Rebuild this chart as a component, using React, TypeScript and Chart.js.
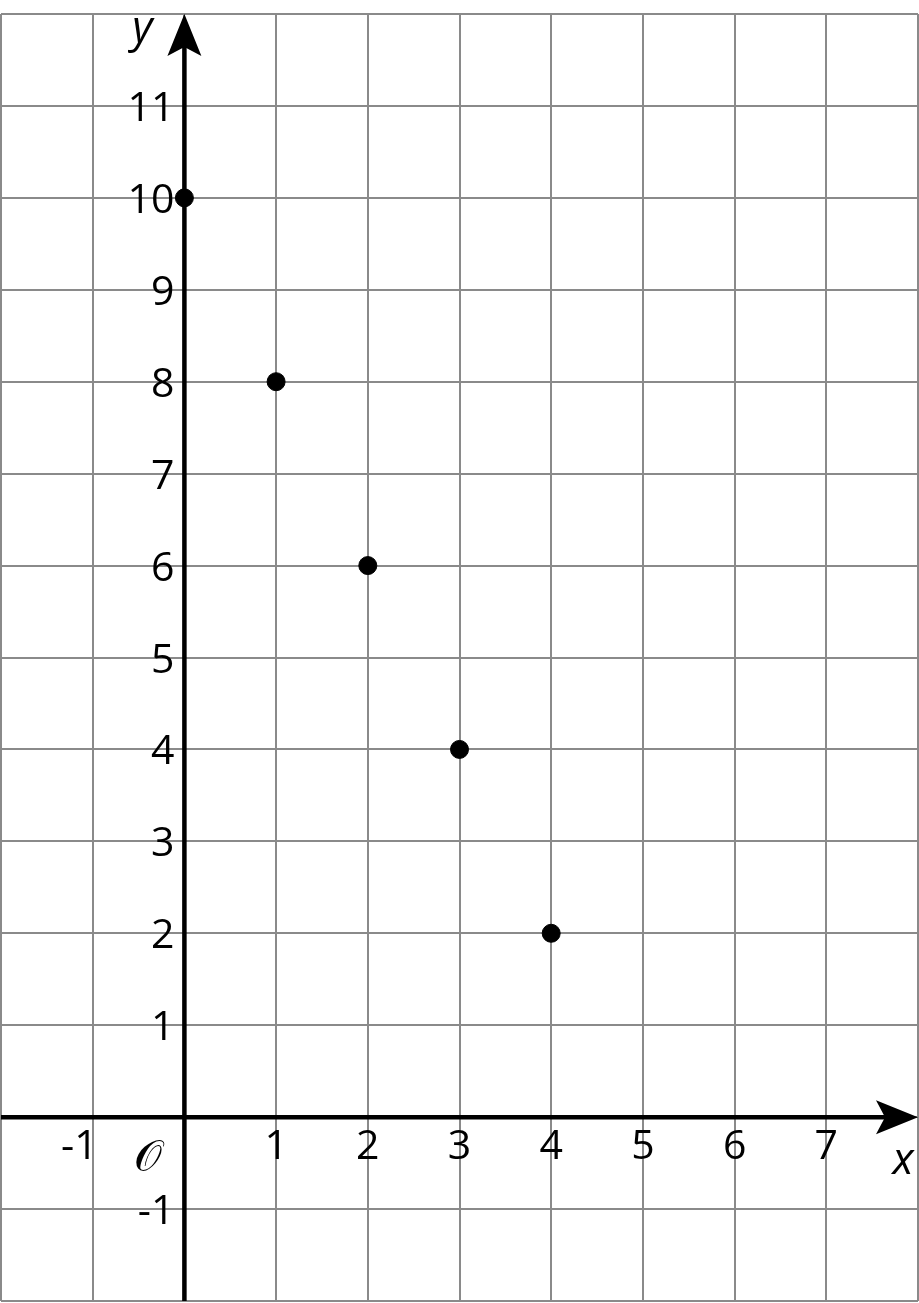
import React, { useEffect, useRef } from "react";
import { Chart, registerables } from "chart.js";

Chart.register(...registerables);

const xPoints = [0, 1, 2, 3, 4];
const yPoints = [10, 8, 6, 4, 2];
const xTickLabels = [-1, 1, 2, 3, 4, 5, 6, 7];
const yTickLabels = [-1, 1, 2, 3, 4, 5, 6, 7, 8, 9, 10, 11];
const xRange = [-2, 8];
const yRange = [-2, 12];
const originLabel = "𝒪";
const xAxisName = "x";
const yAxisName = "y";

const axesPlugin = {
  id: "mathAxes",
  beforeDatasetsDraw(chart: any) {
    const ctx = chart.ctx;
    const xs = chart.scales.x;
    const ys = chart.scales.y;
    const x0 = xs.getPixelForValue(0);
    const y0 = ys.getPixelForValue(0);
    const left = xs.getPixelForValue(xRange[0]);
    const right = xs.getPixelForValue(xRange[1]);
    const top = ys.getPixelForValue(yRange[1]);
    const bottom = ys.getPixelForValue(yRange[0]);
    ctx.save();
    ctx.strokeStyle = "#000";
    ctx.fillStyle = "#000";
    ctx.lineWidth = 4.5;
    ctx.beginPath();
    ctx.moveTo(left, y0);
    ctx.lineTo(right - 30, y0);
    ctx.moveTo(x0, bottom);
    ctx.lineTo(x0, top + 30);
    ctx.stroke();
    // arrows
    ctx.beginPath();
    ctx.moveTo(right, y0);
    ctx.lineTo(right - 42, y0 - 17);
    ctx.lineTo(right - 33, y0);
    ctx.lineTo(right - 42, y0 + 17);
    ctx.closePath();
    ctx.fill();
    ctx.beginPath();
    ctx.moveTo(x0, top);
    ctx.lineTo(x0 - 17, top + 42);
    ctx.lineTo(x0, top + 33);
    ctx.lineTo(x0 + 17, top + 42);
    ctx.closePath();
    ctx.fill();
    // tick labels
    ctx.font = "41px 'Open Sans'";
    ctx.textBaseline = "alphabetic";
    xTickLabels.forEach((v) => {
      const px = xs.getPixelForValue(v);
      if (v < 0) {
        ctx.textAlign = "right";
        ctx.fillText(String(v), px + 5, y0 + 42);
      } else {
        ctx.textAlign = "center";
        ctx.fillText(String(v), px, y0 + 42);
      }
    });
    ctx.textAlign = "right";
    yTickLabels.forEach((v) => {
      const py = ys.getPixelForValue(v);
      ctx.fillText(String(v), x0 - 10, py + 15);
    });
    // origin
    ctx.textAlign = "center";
    ctx.font = "44px 'DejaVu Sans'";
    ctx.fillText(originLabel, x0 - 36, y0 + 54);
    // axis names
    ctx.font = "italic 44px 'Open Sans'";
    ctx.fillText(xAxisName, right - 15, y0 + 57);
    ctx.fillText(yAxisName, x0 - 42, top + 28);
    ctx.restore();
  },
};

export default function App() {
  const ref = useRef<HTMLCanvasElement>(null);
  useEffect(() => {
    document.body.style.margin = "0";
    const chart = new Chart(ref.current!, {
      type: "scatter",
      data: {
        datasets: [
          {
            data: xPoints.map((x, i) => ({ x, y: yPoints[i] })),
            backgroundColor: "#000",
            borderColor: "#000",
            pointRadius: 9,
            pointHoverRadius: 9,
          },
        ],
      },
      options: {
        animation: false,
        responsive: false,
        maintainAspectRatio: false,
        layout: { autoPadding: false, padding: { left: 1, right: 1, top: 14, bottom: 2 } },
        plugins: { legend: { display: false }, tooltip: { enabled: false } },
        scales: {
          x: {
            type: "linear",
            min: xRange[0],
            max: xRange[1],
            ticks: { stepSize: 1, display: false },
            grid: { color: "#8a8a8a", lineWidth: 2, drawTicks: false },
            border: { display: false },
          },
          y: {
            type: "linear",
            min: yRange[0],
            max: yRange[1],
            ticks: { stepSize: 1, display: false },
            grid: { color: "#8a8a8a", lineWidth: 2, drawTicks: false },
            border: { display: false },
          },
        },
      },
      plugins: [axesPlugin],
    });
    return () => chart.destroy();
  }, []);
  return (
    <div style={{ width: 919, height: 1303, background: "#fff" }}>
      <canvas ref={ref} width={919} height={1303} style={{ width: 919, height: 1303, display: "block" }} />
    </div>
  );
}
